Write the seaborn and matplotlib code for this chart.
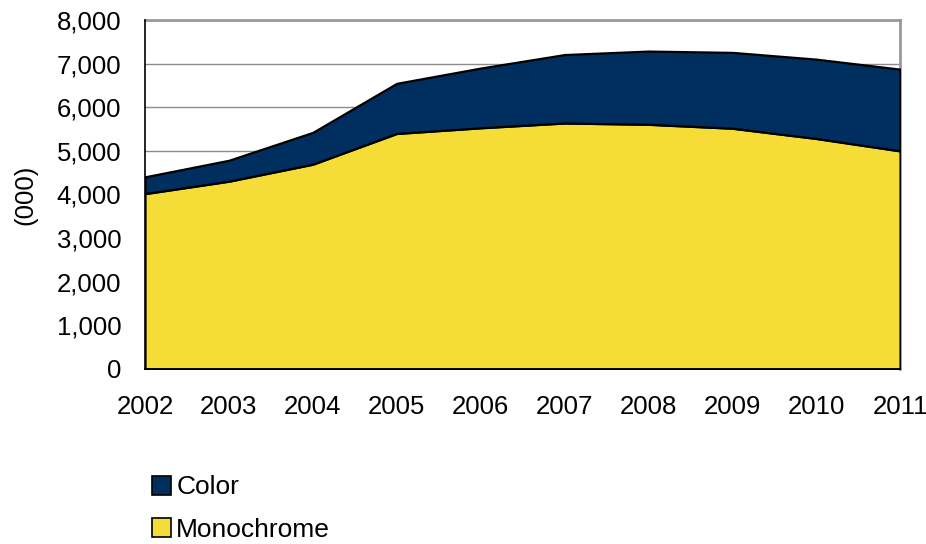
import matplotlib
matplotlib.use("Agg")
import matplotlib.pyplot as plt
import seaborn as sns
import numpy as np
from matplotlib.ticker import FuncFormatter
from matplotlib.patches import Patch

years = [2002, 2003, 2004, 2005, 2006, 2007, 2008, 2009, 2010, 2011]
monochrome = [4020, 4305, 4695, 5400, 5530, 5640, 5610, 5520, 5285, 5000]
color = [385, 480, 730, 1150, 1370, 1570, 1680, 1740, 1820, 1875]
series_names = ["Color", "Monochrome"]
y_label = "(000)"

sns.set_style("white")
plt.rcParams['font.family'] = ['Liberation Sans', 'DejaVu Sans']
plt.rcParams['text.color'] = 'black'
plt.rcParams['axes.labelcolor'] = 'black'

fig = plt.figure(figsize=(9.26, 5.44), dpi=100)
ax = fig.add_axes([0.1566, 0.322, 0.8154, 0.641])

mono_c = "#F6DC36"
col_c = "#002F5F"

ax.stackplot(years, monochrome, color, colors=[mono_c, col_c],
             edgecolor="black", linewidth=1.6, zorder=3)

ax.set_xlim(2002, 2011)
ax.set_ylim(0, 8000)
ax.set_yticks(np.arange(0, 8001, 1000))
ax.set_xticks(years)
ax.yaxis.set_major_formatter(FuncFormatter(lambda v, p: f"{int(v):,}"))
ax.grid(axis="y", color="#8c8c8c", linewidth=1.0, zorder=0)
ax.set_axisbelow(True)

for s in ["top", "right"]:
    ax.spines[s].set_color("#999999")
    ax.spines[s].set_linewidth(2)
for s in ["left", "bottom"]:
    ax.spines[s].set_color("black")
    ax.spines[s].set_linewidth(1.2)
    ax.spines[s].set_zorder(5)

ax.tick_params(axis="both", which="major", direction="out", length=7,
               width=1, color="black", labelsize=18.5, labelcolor="black")
ax.tick_params(axis="x", pad=12)
ax.tick_params(axis="y", pad=10)
ax.set_ylabel(y_label, fontsize=18.5, labelpad=14)

handles = [Patch(facecolor=col_c, edgecolor="black", linewidth=1.2),
           Patch(facecolor=mono_c, edgecolor="black", linewidth=1.2)]
fig.legend(handles, series_names, loc="upper left",
           bbox_to_anchor=(0.164, 0.126), bbox_transform=fig.transFigure,
           frameon=False, fontsize=19, handlelength=0.72, handleheight=0.72,
           handletextpad=0.2, labelspacing=0.7, borderpad=0, borderaxespad=0)

fig.savefig("out.png", dpi=100)
